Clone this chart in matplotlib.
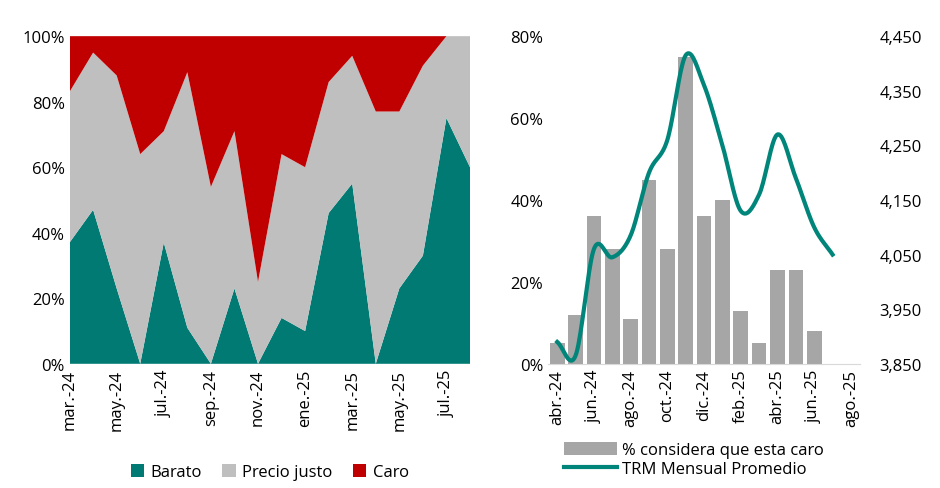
import numpy as np
import matplotlib
matplotlib.use("Agg")
import matplotlib.pyplot as plt
from matplotlib.ticker import FuncFormatter

plt.rcParams["font.family"] = "Open Sans"
plt.rcParams["font.size"] = 12

months_left = ["mar.-24","abr.-24","may.-24","jun.-24","jul.-24","ago.-24","sep.-24","oct.-24","nov.-24",
               "dic.-24","ene.-25","feb.-25","mar.-25","abr.-25","may.-25","jun.-25","jul.-25","ago.-25"]
barato = [37, 47, 23, 0, 37, 11, 0, 23, 0, 14, 10, 46, 55, 0, 23, 33, 75, 60]
barato_justo = [83, 95, 88, 64, 71, 89, 54, 71, 25, 64, 60, 86, 94, 77, 77, 91, 100, 100]

months_right = ["abr.-24","may.-24","jun.-24","jul.-24","ago.-24","sep.-24","oct.-24","nov.-24","dic.-24",
                "ene.-25","feb.-25","mar.-25","abr.-25","may.-25","jun.-25","jul.-25","ago.-25"]
caro_pct = [5, 12, 36, 28, 11, 45, 28, 75, 36, 40, 13, 5, 23, 23, 8]
trm = [3890, 3865, 4060, 4045, 4085, 4200, 4260, 4415, 4360, 4250, 4130, 4160, 4270, 4190, 4100, 4050]

teal = "#007A73"; grey = "#BFBFBF"; red = "#C00000"

fig = plt.figure(figsize=(9.4, 4.89), dpi=100)
ax = fig.add_axes([0.074, 0.254, 0.426, 0.67])
x = np.arange(len(months_left))
precio = np.array(barato_justo) - np.array(barato)
caro = 100 - np.array(barato_justo)
ax.stackplot(x, barato, precio, caro, colors=[teal, grey, red], labels=["Barato", "Precio justo", "Caro"])
ax.set_xlim(0, len(x) - 1); ax.set_ylim(0, 100)
ax.set_yticks(range(0, 101, 20))
ax.yaxis.set_major_formatter(FuncFormatter(lambda v, p: f"{int(v)}%"))
ax.set_xticks(x[::2]); ax.set_xticklabels(months_left[::2], rotation=90)
for s in ax.spines.values(): s.set_visible(False)
ax.tick_params(length=0)
ax.legend(loc="upper center", bbox_to_anchor=(0.5, -0.26), ncol=3, frameon=False,
          handlelength=0.8, handleheight=0.8, columnspacing=1.2, handletextpad=0.4)

ax2 = fig.add_axes([0.583, 0.254, 0.332, 0.67])
xr = np.arange(len(months_right))
ax2.bar(xr[:len(caro_pct)], caro_pct, width=0.8, color="#A6A6A6", label="% considera que esta caro")
ax2.set_xlim(-0.5, len(months_right) - 0.5); ax2.set_ylim(0, 80)
ax2.set_yticks(range(0, 81, 20))
ax2.yaxis.set_major_formatter(FuncFormatter(lambda v, p: f"{int(v)}%"))
ax2.set_xticks(xr[::2]); ax2.set_xticklabels(months_right[::2], rotation=90)
for s in ["top", "right", "left"]: ax2.spines[s].set_visible(False)
ax2.spines["bottom"].set_color("#D9D9D9")
ax2.tick_params(length=0)
ax2.set_zorder(1); ax2.patch.set_visible(False)

ax3 = ax2.twinx()
ax3.set_zorder(2)
# smooth drawing of the monthly series (Catmull-Rom rendering)
xt = np.arange(len(trm), dtype=float); yt = np.array(trm, dtype=float)
px = np.concatenate([[2*xt[0]-xt[1]], xt, [2*xt[-1]-xt[-2]]])
py = np.concatenate([[2*yt[0]-yt[1]], yt, [2*yt[-1]-yt[-2]]])
sx, sy = [], []
for i in range(1, len(px) - 2):
    t = np.linspace(0, 1, 20)
    for arr, out in ((px, sx), (py, sy)):
        p0, p1, p2, p3 = arr[i-1], arr[i], arr[i+1], arr[i+2]
        out.extend(0.5*((2*p1) + (-p0+p2)*t + (2*p0-5*p1+4*p2-p3)*t**2 + (-p0+3*p1-3*p2+p3)*t**3))
ax3.plot(sx, sy, color="#00857A", lw=3, label="TRM Mensual Promedio")
ax3.set_ylim(3850, 4450)
ax3.set_yticks(range(3850, 4451, 100))
ax3.yaxis.set_major_formatter(FuncFormatter(lambda v, p: f"{int(v):,}"))
for s in ax3.spines.values(): s.set_visible(False)
ax3.tick_params(length=0, pad=14)

h1, l1 = ax2.get_legend_handles_labels(); h2, l2 = ax3.get_legend_handles_labels()
fig.legend(h1 + h2, l1 + l2, loc="upper left", bbox_to_anchor=(0.6, 0.095), ncol=1, frameon=False,
           handlelength=3.2, handleheight=0.9, handletextpad=0.3, labelspacing=0.15,
           bbox_transform=fig.transFigure, borderaxespad=0.0, borderpad=0.0)

fig.savefig("out.png", dpi=100)
